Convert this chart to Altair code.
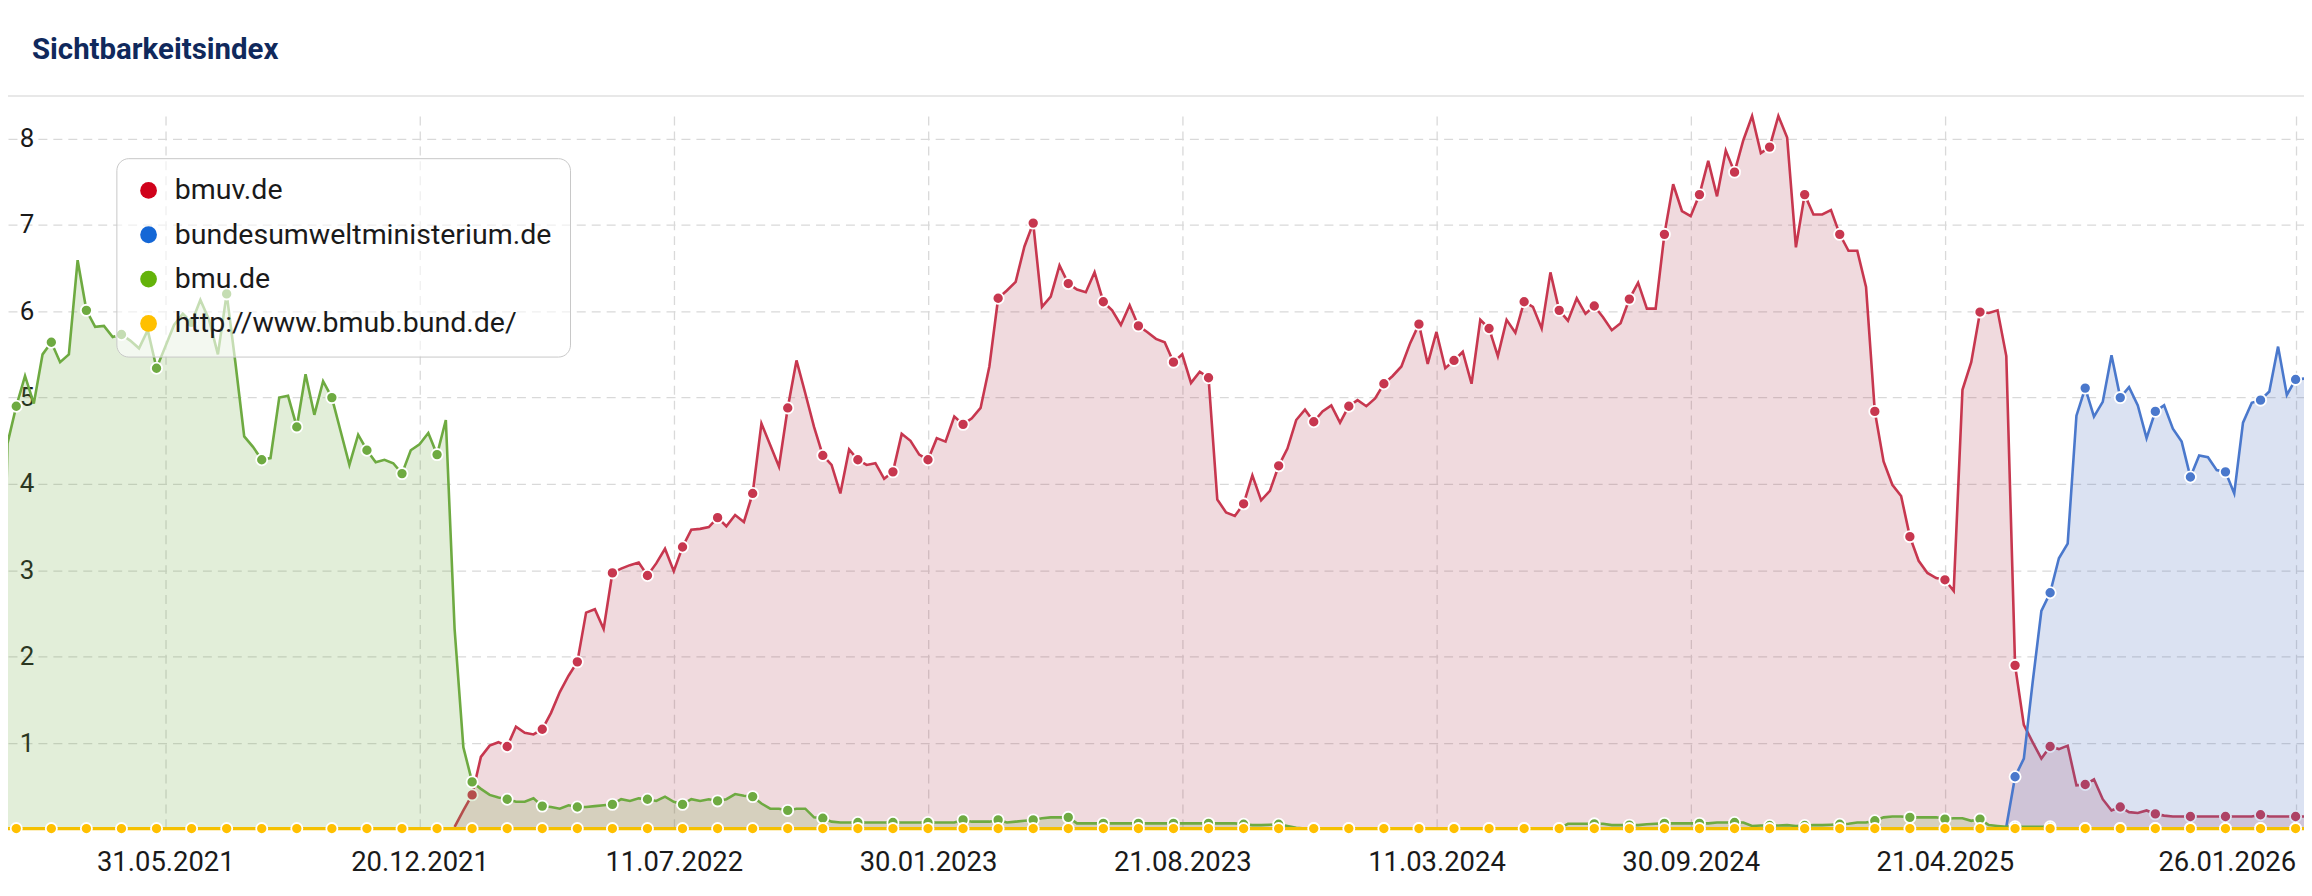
import altair as alt
import pandas as pd

TITLE = "Sichtbarkeitsindex"
SITES = ["bmuv.de", "bundesumweltministerium.de", "bmu.de", "http://www.bmub.bund.de/"]
LEGEND_COLORS = ["#d0021b", "#1467d6", "#64b30a", "#ffc000"]

FIRST_WEEK = "2021-01-18"  # weekly values (Mondays) start here
TICK_DATES = [(2021, 5, 31), (2021, 12, 20), (2022, 7, 11), (2023, 1, 30), (2023, 8, 21),
              (2024, 3, 11), (2024, 9, 30), (2025, 4, 21), (2026, 1, 26)]
Y_TICKS = [1, 2, 3, 4, 5, 6, 7, 8]

# bmu.de - one value per week from FIRST_WEEK
bmu = [
    0.0, 4.47, 4.90, 5.25, 4.93, 5.50, 5.64, 5.41, 5.50, 6.59,
    6.01, 5.82, 5.83, 5.70, 5.73, 5.66, 5.57, 5.78, 5.34, 5.59,
    5.84, 5.97, 5.87, 6.13, 5.90, 5.50, 6.20, 5.40, 4.55, 4.43,
    4.28, 4.30, 5.00, 5.02, 4.66, 5.27, 4.80, 5.19, 5.00, 4.61,
    4.22, 4.57, 4.39, 4.25, 4.28, 4.24, 4.12, 4.39, 4.46, 4.59,
    4.34, 4.74, 2.32, 0.95, 0.55, 0.47, 0.40, 0.37, 0.35, 0.32,
    0.32, 0.36, 0.27, 0.26, 0.24, 0.28, 0.26, 0.26, 0.27, 0.28,
    0.29, 0.35, 0.33, 0.36, 0.35, 0.33, 0.38, 0.32, 0.29, 0.35,
    0.33, 0.35, 0.33, 0.35, 0.41, 0.39, 0.38, 0.30, 0.24, 0.24,
    0.22, 0.24, 0.24, 0.14, 0.13, 0.09, 0.08, 0.08, 0.08, 0.08,
    0.08, 0.08, 0.08, 0.08, 0.08, 0.08, 0.08, 0.08, 0.08, 0.08,
    0.11, 0.09, 0.09, 0.09, 0.11, 0.08, 0.09, 0.10, 0.11, 0.13,
    0.14, 0.14, 0.14, 0.07, 0.07, 0.07, 0.07, 0.07, 0.07, 0.07,
    0.07, 0.07, 0.07, 0.07, 0.07, 0.07, 0.07, 0.07, 0.07, 0.07,
    0.07, 0.07, 0.06, 0.05, 0.05, 0.055, 0.06, 0.04, 0.02, 0.01,
    0.01, 0.01, 0.01, 0.01, 0.01, 0.01, 0.01, 0.01, 0.01, 0.01,
    0.01, 0.01, 0.01, 0.01, 0.01, 0.01, 0.01, 0.01, 0.01, 0.01,
    0.01, 0.01, 0.01, 0.01, 0.01, 0.01, 0.01, 0.01, 0.01, 0.065,
    0.065, 0.065, 0.065, 0.065, 0.05, 0.05, 0.05, 0.05, 0.06, 0.065,
    0.07, 0.07, 0.07, 0.07, 0.07, 0.07, 0.08, 0.08, 0.08, 0.08,
    0.04, 0.045, 0.045, 0.045, 0.05, 0.04, 0.045, 0.05, 0.05, 0.055,
    0.06, 0.065, 0.08, 0.08, 0.10, 0.14, 0.15, 0.15, 0.14, 0.14,
    0.14, 0.14, 0.12, 0.13, 0.13, 0.10, 0.12, 0.05, 0.04, 0.03,
    0.03, 0.03, 0.03, 0.03, 0.03, 0.01, 0.01, 0.01, 0.01, 0.01,
    0.01, 0.01, 0.01, 0.01, 0.01, 0.01, 0.01, 0.01, 0.01, 0.01,
    0.01, 0.01, 0.01, 0.01, 0.01, 0.01, 0.01, 0.01, 0.01, 0.01,
    0.01, 0.01, 0.01, 0.01,
]

# bmuv.de - starts at week 52 (2021-12-27)
BMUV_START = 52
bmuv = [
    0.03, 0.22, 0.40, 0.84, 0.97, 1.01, 0.96, 1.19, 1.12, 1.10,
    1.16, 1.35, 1.59, 1.78, 1.94, 2.51, 2.55, 2.32, 2.97, 3.02,
    3.06, 3.09, 2.94, 3.08, 3.25, 2.99, 3.27, 3.47, 3.48, 3.50,
    3.61, 3.51, 3.64, 3.56, 3.89, 4.70, 4.45, 4.20, 4.88, 5.43,
    5.05, 4.66, 4.33, 4.22, 3.89, 4.40, 4.28, 4.22, 4.24, 4.06,
    4.14, 4.58, 4.50, 4.34, 4.28, 4.53, 4.49, 4.78, 4.69, 4.76,
    4.88, 5.36, 6.15, 6.24, 6.34, 6.75, 7.02, 6.05, 6.17, 6.53,
    6.32, 6.25, 6.22, 6.45, 6.11, 6.01, 5.84, 6.07, 5.83, 5.76,
    5.68, 5.64, 5.41, 5.50, 5.17, 5.30, 5.23, 3.82, 3.67, 3.63,
    3.77, 4.10, 3.81, 3.92, 4.21, 4.41, 4.74, 4.86, 4.72, 4.84,
    4.91, 4.71, 4.90, 4.97, 4.90, 4.99, 5.16, 5.25, 5.36, 5.63,
    5.85, 5.39, 5.76, 5.34, 5.43, 5.53, 5.16, 5.90, 5.80, 5.48,
    5.90, 5.75, 6.11, 6.05, 5.80, 6.45, 6.01, 5.89, 6.15, 5.97,
    6.06, 5.93, 5.78, 5.86, 6.14, 6.33, 6.03, 6.03, 6.89, 7.47,
    7.16, 7.10, 7.35, 7.74, 7.33, 7.86, 7.61, 7.98, 8.26, 7.83,
    7.90, 8.26, 8.01, 6.74, 7.35, 7.12, 7.12, 7.17, 6.89, 6.70,
    6.70, 6.28, 4.84, 4.26, 3.99, 3.86, 3.39, 3.11, 2.97, 2.91,
    2.89, 2.76, 5.09, 5.41, 5.99, 5.98, 6.01, 5.48, 1.90, 1.21,
    1.01, 0.82, 0.96, 0.93, 0.97, 0.51, 0.52, 0.58, 0.35, 0.22,
    0.26, 0.20, 0.19, 0.22, 0.18, 0.16, 0.15, 0.15, 0.15, 0.15,
    0.15, 0.15, 0.15, 0.15, 0.15, 0.15, 0.17, 0.15, 0.15, 0.15,
    0.15, 0.15,
]

# bundesumweltministerium.de - starts at week 229 (2025-05-12)
BUND_START = 229
bund = [
    0.03, 0.61, 0.82, 1.70, 2.53, 2.74, 3.14, 3.31, 4.79, 5.11,
    4.78, 4.95, 5.49, 5.00, 5.12, 4.91, 4.53, 4.84, 4.91, 4.64,
    4.49, 4.08, 4.33, 4.31, 4.16, 4.14, 3.89, 4.71, 4.94, 4.97,
    5.07, 5.59, 5.03, 5.21, 5.22,
]

# http://www.bmub.bund.de/ - flat at zero, whole period
bmub = [
    0.01, 0.01, 0.01, 0.01, 0.01, 0.01, 0.01, 0.01, 0.01, 0.01, 0.01, 0.01,
    0.01, 0.01, 0.01, 0.01, 0.01, 0.01, 0.01, 0.01, 0.01, 0.01, 0.01, 0.01,
    0.01, 0.01, 0.01, 0.01, 0.01, 0.01, 0.01, 0.01, 0.01, 0.01, 0.01, 0.01,
    0.01, 0.01, 0.01, 0.01, 0.01, 0.01, 0.01, 0.01, 0.01, 0.01, 0.01, 0.01,
    0.01, 0.01, 0.01, 0.01, 0.01, 0.01, 0.01, 0.01, 0.01, 0.01, 0.01, 0.01,
    0.01, 0.01, 0.01, 0.01, 0.01, 0.01, 0.01, 0.01, 0.01, 0.01, 0.01, 0.01,
    0.01, 0.01, 0.01, 0.01, 0.01, 0.01, 0.01, 0.01, 0.01, 0.01, 0.01, 0.01,
    0.01, 0.01, 0.01, 0.01, 0.01, 0.01, 0.01, 0.01, 0.01, 0.01, 0.01, 0.01,
    0.01, 0.01, 0.01, 0.01, 0.01, 0.01, 0.01, 0.01, 0.01, 0.01, 0.01, 0.01,
    0.01, 0.01, 0.01, 0.01, 0.01, 0.01, 0.01, 0.01, 0.01, 0.01, 0.01, 0.01,
    0.01, 0.01, 0.01, 0.01, 0.01, 0.01, 0.01, 0.01, 0.01, 0.01, 0.01, 0.01,
    0.01, 0.01, 0.01, 0.01, 0.01, 0.01, 0.01, 0.01, 0.01, 0.01, 0.01, 0.01,
    0.01, 0.01, 0.01, 0.01, 0.01, 0.01, 0.01, 0.01, 0.01, 0.01, 0.01, 0.01,
    0.01, 0.01, 0.01, 0.01, 0.01, 0.01, 0.01, 0.01, 0.01, 0.01, 0.01, 0.01,
    0.01, 0.01, 0.01, 0.01, 0.01, 0.01, 0.01, 0.01, 0.01, 0.01, 0.01, 0.01,
    0.01, 0.01, 0.01, 0.01, 0.01, 0.01, 0.01, 0.01, 0.01, 0.01, 0.01, 0.01,
    0.01, 0.01, 0.01, 0.01, 0.01, 0.01, 0.01, 0.01, 0.01, 0.01, 0.01, 0.01,
    0.01, 0.01, 0.01, 0.01, 0.01, 0.01, 0.01, 0.01, 0.01, 0.01, 0.01, 0.01,
    0.01, 0.01, 0.01, 0.01, 0.01, 0.01, 0.01, 0.01, 0.01, 0.01, 0.01, 0.01,
    0.01, 0.01, 0.01, 0.01, 0.01, 0.01, 0.01, 0.01, 0.01, 0.01, 0.01, 0.01,
    0.01, 0.01, 0.01, 0.01, 0.01, 0.01, 0.01, 0.01, 0.01, 0.01, 0.01, 0.01,
    0.01, 0.01, 0.01, 0.01, 0.01, 0.01, 0.01, 0.01, 0.01, 0.01, 0.01, 0.01,
]

# ---------------------------------------------------------------- table
weeks = pd.date_range(FIRST_WEEK, periods=len(bmu), freq="7D")
rows = []


def add(site, start, vals):
    for j, v in enumerate(vals):
        i = start + j
        rows.append({"date": weeks[i].strftime("%Y-%m-%dT00:00:00"),
                     "site": site, "v": v, "m": (i % 4 == 2)})


add(SITES[0], BMUV_START, bmuv)
add(SITES[1], BUND_START, bund)
add(SITES[2], 0, bmu)
add(SITES[3], 0, bmub)
df = pd.DataFrame(rows)

FONT = "Roboto"
GRID = "#d9d9d9"

x_enc = alt.X(
    "date:T",
    scale=alt.Scale(domain=[alt.DateTime(year=2021, month=1, date=25, hours=9, minutes=36),
                            alt.DateTime(year=2026, month=2, date=1, hours=16, minutes=48)]),
    axis=alt.Axis(values=[alt.DateTime(year=y, month=m, date=d) for (y, m, d) in TICK_DATES],
                  format="%d.%m.%Y", title=None, domain=False, ticks=False,
                  labelFont=FONT, labelFontSize=27.5, labelColor="#1a1a1a",
                  labelBaseline="middle", labelPadding=33, labelFlush=14,
                  labelOverlap=False, grid=True, gridColor=GRID, gridDash=[9, 6],
                  gridWidth=1.3),
)
y_enc = alt.Y(
    "v:Q",
    scale=alt.Scale(domain=[0, 8.26], nice=False),
    axis=alt.Axis(values=Y_TICKS, title=None, domain=False, ticks=False, tickSize=0,
                  labelFont=FONT, labelFontSize=26, labelColor="#1a1a1a",
                  labelAlign="right", labelPadding=-26, grid=True, gridColor=GRID,
                  gridDash=[9, 6], gridWidth=1.3),
)

base = alt.Chart(df).encode(x=x_enc, y=y_enc)

STYLE = {
    SITES[0]: ("#c7374f", "#b5475c", "#c7374f", 2.6, True),
    SITES[1]: ("#4a78cc", "#4b6ebe", "#4a78cc", 2.6, True),
    SITES[2]: ("#6eaa41", "#6eaa41", "#6eaa41", 2.6, True),
    SITES[3]: ("#f5c000", "#f5c000", "#ffc000", 3.2, False),
}

layers = []
for site in SITES:
    line_c, fill_c, mark_c, lw, has_area = STYLE[site]
    s = base.transform_filter(alt.datum.site == site)
    if has_area:
        layers.append(s.mark_area(color=fill_c, opacity=0.2))
    layers.append(s.mark_line(color=line_c, strokeWidth=lw))
    layers.append(s.transform_filter(alt.datum.m == True).mark_circle(
        color=mark_c, opacity=1, size=125, stroke="white", strokeWidth=1.8))

# legend (own colour scale, invisible marks)
leg_df = pd.DataFrame({"site": SITES, "date": ["2022-01-03T00:00:00"] * 4, "v": [0.0] * 4})
legend_layer = alt.Chart(leg_df).mark_circle(size=0).encode(
    x=x_enc, y=y_enc,
    color=alt.Color("site:N", scale=alt.Scale(domain=SITES, range=LEGEND_COLORS),
                    legend=alt.Legend(title=None, orient="none", direction="vertical",
                                      legendX=108.7, legendY=42.3,
                                      fillColor="rgba(255,255,255,0.6)",
                                      strokeColor="#c8c8c8", cornerRadius=12, padding=18,
                                      symbolType="circle", symbolSize=283,
                                      symbolStrokeWidth=0, symbolOpacity=1,
                                      labelFont=FONT, labelFontSize=28.6,
                                      labelColor="#1a1a1a", labelOffset=12,
                                      rowPadding=15.5, labelLimit=800)),
)

title_layer = alt.Chart(pd.DataFrame({"t": [TITLE]})).mark_text(
    align="left", baseline="alphabetic", font=FONT, fontSize=29.5, fontWeight="bold",
    color="#10295c",
).encode(x=alt.value(24), y=alt.value(-57), text="t:N")

sep_layer = alt.Chart(pd.DataFrame({"a": [0]})).mark_rule(
    color="#e8e8e8", strokeWidth=2
).encode(x=alt.value(0), x2=alt.value(2304), y=alt.value(-20))

chart = alt.layer(*layers, legend_layer, title_layer, sep_layer).properties(
    width=2303, height=715.6,
    padding={"left": 0, "top": 107, "right": 0, "bottom": 55},
    autosize=alt.AutoSizeParams(type="none"),
).configure_view(stroke=None)

chart.save("out.html", embed_options={"renderer": "svg", "actions": False})
